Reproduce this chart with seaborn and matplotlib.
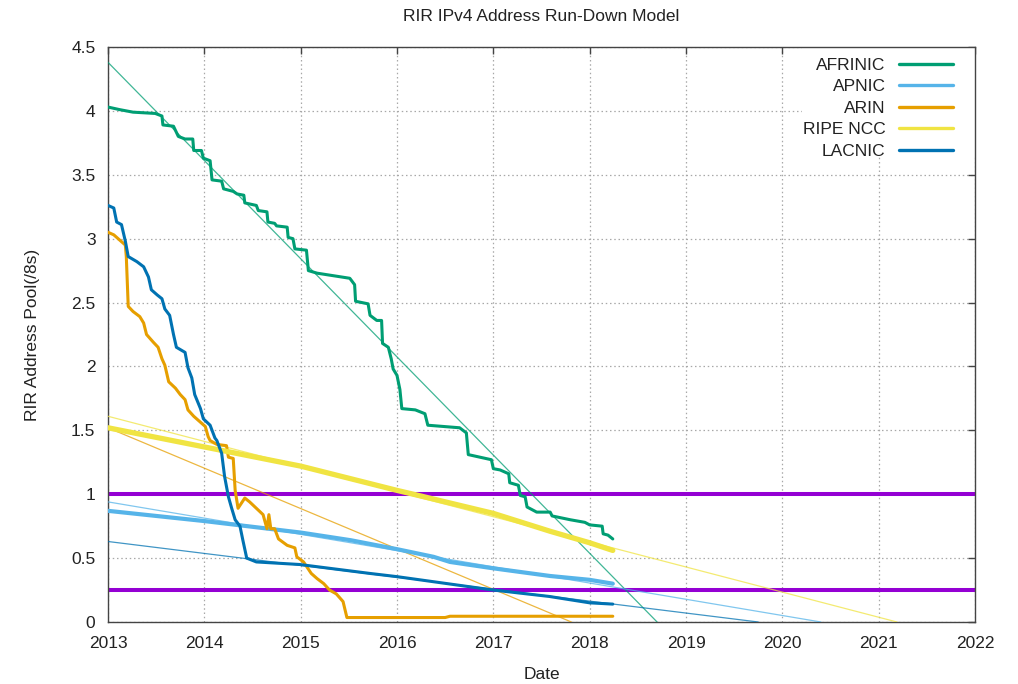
import matplotlib
matplotlib.use("Agg")
import matplotlib.pyplot as plt
from matplotlib.lines import Line2D
from matplotlib.patches import Rectangle
from matplotlib.ticker import FormatStrFormatter
import seaborn as sns
import pandas as pd

# ---------------- data ----------------
rirs = ["AFRINIC", "APNIC", "ARIN", "RIPE NCC", "LACNIC"]
colors = ["#009e73", "#56b4e9", "#e69f00", "#f0e442", "#0072b2"]

afrinic_year = [2013.00, 2013.12, 2013.26, 2013.49, 2013.56, 2013.57, 2013.68, 2013.73, 2013.80, 2013.88,
                2013.89, 2013.97, 2013.99, 2014.06, 2014.08, 2014.18, 2014.20, 2014.30, 2014.34, 2014.41,
                2014.42, 2014.54, 2014.56, 2014.65, 2014.66, 2014.73, 2014.75, 2014.86, 2014.87, 2014.92,
                2014.94, 2015.06, 2015.08, 2015.17, 2015.34, 2015.51, 2015.56, 2015.57, 2015.70, 2015.72,
                2015.79, 2015.84, 2015.85, 2015.91, 2015.94, 2015.96, 2016.00, 2016.03, 2016.05, 2016.19,
                2016.29, 2016.32, 2016.65, 2016.72, 2016.74, 2016.86, 2016.98, 2017.00, 2017.07, 2017.16,
                2017.17, 2017.26, 2017.28, 2017.33, 2017.35, 2017.45, 2017.59, 2017.61, 2017.80, 2017.95,
                2018.00, 2018.13, 2018.14, 2018.19, 2018.24]
afrinic_pool = [4.03, 4.01, 3.99, 3.98, 3.96, 3.89, 3.88, 3.80, 3.78, 3.78,
                3.69, 3.69, 3.63, 3.61, 3.46, 3.45, 3.39, 3.37, 3.35, 3.34,
                3.28, 3.26, 3.22, 3.21, 3.13, 3.12, 3.10, 3.09, 3.01, 3.00,
                2.92, 2.91, 2.75, 2.73, 2.71, 2.69, 2.64, 2.51, 2.49, 2.40,
                2.36, 2.36, 2.18, 2.15, 2.06, 1.98, 1.93, 1.82, 1.67, 1.66,
                1.63, 1.54, 1.52, 1.48, 1.31, 1.29, 1.27, 1.20, 1.19, 1.16,
                1.09, 1.07, 0.99, 0.98, 0.90, 0.86, 0.86, 0.83, 0.80, 0.78,
                0.76, 0.75, 0.69, 0.68, 0.65]

apnic_year = [2013.00, 2014.00, 2015.00, 2015.52, 2016.00, 2016.38, 2016.55, 2017.00, 2017.59, 2018.00, 2018.24]
apnic_pool = [0.87, 0.79, 0.70, 0.64, 0.57, 0.51, 0.47, 0.42, 0.36, 0.33, 0.30]

arin_year = [2013.00, 2013.06, 2013.12, 2013.18, 2013.19, 2013.21, 2013.26, 2013.33, 2013.37, 2013.40,
             2013.47, 2013.52, 2013.56, 2013.59, 2013.63, 2013.70, 2013.75, 2013.80, 2013.83, 2013.89,
             2013.95, 2014.01, 2014.04, 2014.06, 2014.13, 2014.23, 2014.25, 2014.30, 2014.32, 2014.35,
             2014.42, 2014.47, 2014.54, 2014.61, 2014.65, 2014.67, 2014.69, 2014.73, 2014.77, 2014.86,
             2014.94, 2014.96, 2015.03, 2015.11, 2015.17, 2015.24, 2015.30, 2015.37, 2015.44, 2015.48,
             2015.70, 2016.50, 2016.55, 2017.30, 2018.24]
arin_pool = [3.05, 3.03, 2.99, 2.95, 2.86, 2.47, 2.43, 2.39, 2.34, 2.25,
             2.19, 2.15, 2.06, 2.01, 1.88, 1.83, 1.78, 1.74, 1.66, 1.61,
             1.57, 1.53, 1.45, 1.42, 1.39, 1.38, 1.29, 1.28, 1.03, 0.89,
             0.97, 0.94, 0.89, 0.84, 0.73, 0.84, 0.73, 0.73, 0.65, 0.60,
             0.58, 0.51, 0.47, 0.38, 0.34, 0.30, 0.25, 0.22, 0.16, 0.035,
             0.035, 0.035, 0.045, 0.045, 0.045]

ripe_year = [2013.00, 2014.00, 2015.00, 2016.00, 2016.17, 2017.00, 2017.59, 2018.00, 2018.24]
ripe_pool = [1.52, 1.37, 1.22, 1.03, 1.00, 0.85, 0.71, 0.62, 0.56]

lacnic_year = [2013.00, 2013.06, 2013.09, 2013.14, 2013.18, 2013.21, 2013.30, 2013.37, 2013.42, 2013.45,
               2013.51, 2013.56, 2013.59, 2013.64, 2013.68, 2013.71, 2013.80, 2013.83, 2013.87, 2013.90,
               2013.96, 2013.99, 2014.06, 2014.11, 2014.13, 2014.18, 2014.21, 2014.25, 2014.28, 2014.32,
               2014.37, 2014.40, 2014.44, 2014.54, 2014.99, 2015.72, 2016.00, 2017.00, 2017.58, 2018.00,
               2018.24]
lacnic_pool = [3.26, 3.24, 3.13, 3.11, 2.98, 2.86, 2.82, 2.78, 2.70, 2.60,
               2.56, 2.53, 2.45, 2.40, 2.25, 2.15, 2.11, 1.99, 1.91, 1.78,
               1.67, 1.59, 1.54, 1.44, 1.42, 1.32, 1.14, 0.98, 0.90, 0.80,
               0.75, 0.64, 0.50, 0.47, 0.45, 0.38, 0.355, 0.25, 0.20, 0.15,
               0.14]

# linear run-down fits: value at 2013 and year of exhaustion
fit_start_year = 2013.0
fit_start_pool = [4.38, 0.94, 1.52, 1.61, 0.63]
fit_zero_year = [2018.70, 2020.40, 2017.81, 2021.19, 2019.75]

threshold_levels = [1.0, 0.25]

# ---------------- styling ----------------
FS = 12.5
sns.set_style("white")
plt.rcParams["font.family"] = ["Liberation Sans", "DejaVu Sans"]
plt.rcParams["text.color"] = "#222222"
plt.rcParams["axes.labelcolor"] = "#222222"
plt.rcParams["xtick.color"] = "#444444"
plt.rcParams["ytick.color"] = "#444444"
plt.rcParams["xtick.labelcolor"] = "#222222"
plt.rcParams["ytick.labelcolor"] = "#222222"

fig = plt.figure(figsize=(10.18, 6.84), dpi=100)
ax = fig.add_axes([108 / 1018, 1 - 622 / 684, (975 - 108) / 1018, (622 - 47) / 684])

# thresholds
for lvl in threshold_levels:
    ax.axhline(lvl, color="#9400d3", lw=2.9, zorder=2)

series = [
    (afrinic_year, afrinic_pool, 2.2),
    (apnic_year, apnic_pool, 3.0),
    (arin_year, arin_pool, 2.2),
    (ripe_year, ripe_pool, 3.8),
    (lacnic_year, lacnic_pool, 2.2),
]

frames = []
for name, (yr, pool, _) in zip(rirs, series):
    frames.append(pd.DataFrame({"year": yr, "pool": pool, "rir": name}))
df = pd.concat(frames, ignore_index=True)

# fit lines
fit_rows = []
for name, p0, yz in zip(rirs, fit_start_pool, fit_zero_year):
    fit_rows.append({"year": fit_start_year, "pool": p0, "rir": name})
    fit_rows.append({"year": yz, "pool": 0.0, "rir": name})
fit_df = pd.DataFrame(fit_rows)

for name, col in zip(rirs, colors):
    sub = fit_df[fit_df.rir == name]
    sns.lineplot(data=sub, x="year", y="pool", color=col, lw=0.9, alpha=0.75,
                 estimator=None, sort=False, ax=ax, zorder=3)

for name, col, (_, _, lw) in zip(rirs, colors, series):
    sub = df[df.rir == name]
    sns.lineplot(data=sub, x="year", y="pool", color=col, lw=lw,
                 estimator=None, sort=False, ax=ax, zorder=4)

ax.set_xlim(2013, 2022)
ax.set_ylim(0, 4.5)
ax.set_xticks(range(2013, 2023))
ax.set_yticks([i * 0.5 for i in range(10)])
ax.yaxis.set_major_formatter(FormatStrFormatter("%g"))
ax.tick_params(direction="in", top=True, right=True, length=5, width=1,
               labelsize=FS, pad=10)
ax.tick_params(axis="y", pad=9)
ax.grid(True, color="#a8a8a8", lw=0.9, ls=(0, (1.2, 2.2)))
ax.set_axisbelow(True)
for sp in ax.spines.values():
    sp.set_color("#444444")
    sp.set_linewidth(1.0)

ax.set_xlabel("Date", fontsize=FS)
ax.set_ylabel("RIR Address Pool(/8s)", fontsize=FS)
ax.xaxis.set_label_coords(0.5, -0.079)
ax.yaxis.set_label_coords(-0.079, 0.5)
ax.set_title("RIR IPv4 Address Run-Down Model", fontsize=FS, pad=19)

# white backing behind the key (covers grid like the original)
ax.add_patch(Rectangle((1 - 173 / 867, 1 - 110 / 575), 173 / 867, 110 / 575,
                       transform=ax.transAxes, facecolor="white",
                       edgecolor="none", zorder=1.5))

handles = [Line2D([0], [0], color=c, lw=2.4) for c in colors]
leg = ax.legend(handles, rirs, loc="upper right", markerfirst=False,
                bbox_to_anchor=(1 - 14 / 867, 1 - 3 / 575),
                fontsize=FS, handlelength=3.1, handletextpad=0.8,
                labelspacing=0.36, borderpad=0.45, borderaxespad=0.0,
                frameon=False)
leg.set_zorder(5)

fig.savefig("out.png", dpi=100)
